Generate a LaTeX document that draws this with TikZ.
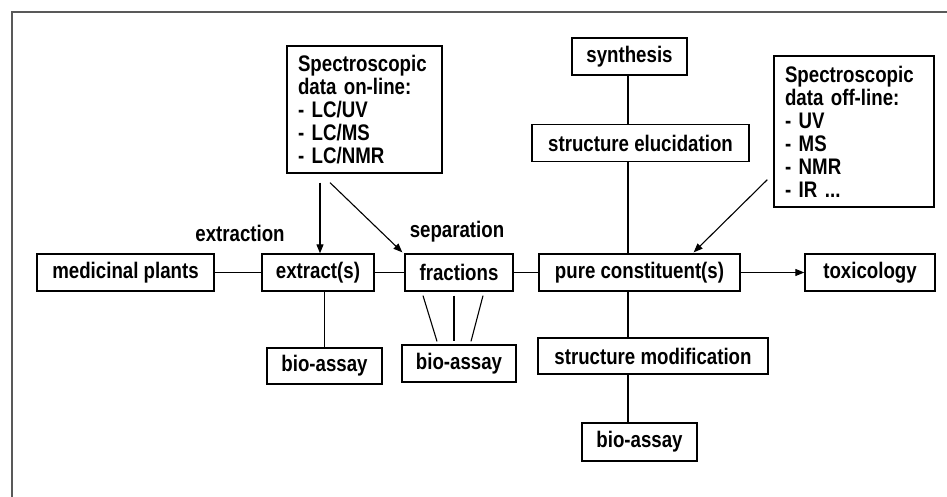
\documentclass[tikz,border=0pt]{standalone}
\usepackage{fontspec}
\setmainfont{Liberation Sans}[FakeStretch=0.83]
\usetikzlibrary{calc,arrows.meta}
\tikzset{
  txt/.style={font=\fontsize{22.5}{23}\selectfont\bfseries},
  box/.style={txt, draw, line width=1.3pt, inner sep=0pt, minimum height=37pt},
  listbox/.style={txt, draw, line width=1.3pt, inner xsep=11pt, inner ysep=0pt, align=left},
  link/.style={line width=1.1pt},
  arr/.style={line width=1.1pt, -{Triangle[length=9pt,width=7pt]}},
  frame/.style={line width=2pt, gray!70!black}
}
\begin{document}
\begin{tikzpicture}[x=1pt, y=-1pt]
    \useasboundingbox (0,0) rectangle (947,497);
    \draw [frame] (12,497) -- (12,12) -- (947,12);

    % main row
    \node [box, minimum width=177pt] (plants) at (125.5,272.5) {medicinal plants};
    \node [box, minimum width=112pt] (ext) at (318,272.5) {extract(s)};
    \node [box, minimum width=108pt] (frac) at (459,272.5) {fractions};
    \node [box, minimum width=201pt] (pure) at (639.5,272.5) {pure constituent(s)};
    \node [box, minimum width=130pt] (tox) at (870,272.5) {toxicology};

    % upper nodes
    \node [listbox, text width=133pt, minimum height=127pt] (online) at (364.5,109.5)
      {Spectroscopic\\data on-line:\\- LC/UV\\- LC/MS\\- LC/NMR};
    \node [listbox, text width=138pt, minimum height=151pt] (offline) at (854,131.5)
      {Spectroscopic\\data off-line:\\- UV\\- MS\\- NMR\\- IR ...};
    \node [box, minimum width=115pt] (synth) at (629.5,56.5) {synthesis};
    \node [box, minimum width=217pt] (eluc) at (640.5,143) {structure elucidation};

    % lower nodes
    \node [box, minimum width=115pt, minimum height=36pt] (bioA) at (324.5,366) {bio-assay};
    \node [box, minimum width=114pt] (bioB) at (459,363.5) {bio-assay};
    \node [box, minimum width=230pt, minimum height=36pt] (strmod) at (653,356) {structure modification};
    \node [box, minimum width=115pt, minimum height=38pt] (bioC) at (639.5,442) {bio-assay};

    % labels
    \node [txt] (lblextr) at (240,233) {extraction};
    \node [txt] (lblsep) at (457,232) {separation};

    % connectors
    \coordinate (col) at (628,0);
    \draw [link] (plants) -- (ext);
    \draw [link] (ext) -- (frac);
    \draw [link] (frac) -- (pure);
    \draw [arr] (pure) -- (tox);
    \draw [link] (ext.south -| bioA.north) -- (bioA.north);
    \draw [link] ($(frac.south)+(-36,4)$) -- ($(bioB.north)+(-22,-3)$);
    \draw [link] ($(frac.south)+(-5,4)$) -- ($(bioB.north)+(-5,-3)$);
    \draw [link] ($(frac.south)+(24,4)$) -- ($(bioB.north)+(12,-3)$);
    \draw [link] (synth.south -| col) -- (eluc.north -| col);
    \draw [link] (eluc.south -| col) -- (pure.north -| col);
    \draw [link] (pure.south -| col) -- (strmod.north -| col);
    \draw [link] (strmod.south -| col) -- (bioC.north -| col);
    \draw [arr] ($(online.south)+(-44.5,9)$) -- (ext.north -| 320,0);
    \draw [arr] ($(online.south)+(-34.5,9)$) -- ($(frac.north west)+(-2,-1)$);
    \draw [arr] ($(offline.south west)+(-6,-28)$) -- ($(pure.north east)+(-47,-1)$);
\end{tikzpicture}
\end{document}
